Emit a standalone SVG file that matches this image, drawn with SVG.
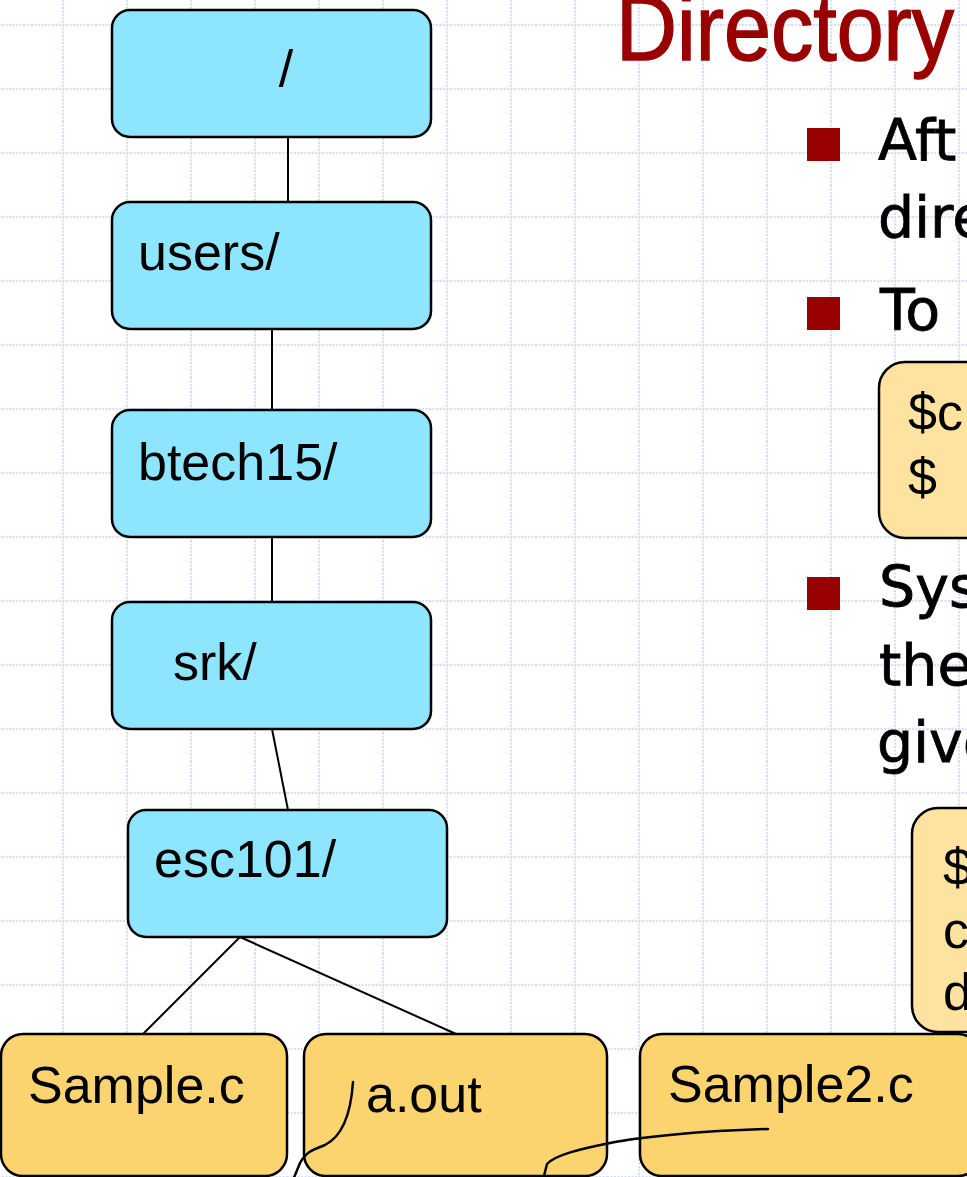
<svg xmlns="http://www.w3.org/2000/svg" width="967" height="1177" viewBox="0 0 967 1177">
  <style>
    .dir { fill: #8de6fd; stroke: #000; stroke-width: 2.5; }
    .file { fill: #fcd46f; stroke: #000; stroke-width: 2.5; }
    .cmd { fill: #fde39f; stroke: #000; stroke-width: 2.5; }
    .lbl { font-family: "Liberation Sans", Arial, sans-serif; font-size: 52px; fill: #000; }
    .body { font-family: "DejaVu Sans", "Noto Sans", sans-serif; font-size: 57px; fill: #000; stroke: #000; stroke-width: 0.8; }
    .edge { stroke: #000; stroke-width: 2; fill: none; }
    .ink { stroke: #000; stroke-width: 2.5; fill: none; stroke-linecap: round; }
    .bullet { fill: #990000; }
  </style>
  <defs>
    <!-- graph-paper background, 64px cells -->
    <pattern id="grid" x="31" y="-7" width="64" height="64" patternUnits="userSpaceOnUse">
      <path d="M32 0V64M0 32H64" stroke="#cdd8f7" stroke-width="2" stroke-dasharray="2 1.5" stroke-opacity="0.85" fill="none"/>
    </pattern>
  </defs>

  <rect width="967" height="1177" fill="#fff"/>
  <rect width="967" height="1177" fill="url(#grid)"/>

  <!-- slide title -->
  <text x="616" y="60" font-family="'Liberation Sans Narrow', 'Liberation Sans', sans-serif" font-size="92" fill="#990000" stroke="#990000" stroke-width="1.5" textLength="338" lengthAdjust="spacingAndGlyphs">Directory</text>

  <!-- bullet points -->
  <g id="bullets">
    <rect class="bullet" x="807" y="128" width="33" height="33"/>
    <text class="body" x="878" y="160">Aft</text>
    <text class="body" x="878" y="237">dire</text>
    <rect class="bullet" x="807" y="297" width="33" height="33"/>
    <text class="body" x="880" y="330">To</text>
    <rect class="bullet" x="807" y="577" width="33" height="33"/>
    <text class="body" x="879" y="607">Sys</text>
    <text class="body" x="879" y="685">the</text>
    <text class="body" x="877" y="762">give</text>
  </g>

  <!-- command boxes -->
  <g id="cmd1">
    <rect class="cmd" x="879" y="362" width="240" height="176" rx="26"/>
    <text class="lbl" x="908" y="430">$c</text>
    <text class="lbl" x="908" y="495">$</text>
  </g>
  <g id="cmd2">
    <rect class="cmd" x="912" y="808" width="200" height="224" rx="26"/>
    <text class="lbl" x="943" y="885">$</text>
    <text class="lbl" x="943" y="948">c</text>
    <text class="lbl" x="943" y="1010">d</text>
  </g>

  <!-- tree edges -->
  <g id="connectors">
    <line class="edge" x1="288" y1="137" x2="288" y2="202"/>
    <line class="edge" x1="272" y1="329" x2="272" y2="410"/>
    <line class="edge" x1="272" y1="537" x2="272" y2="602"/>
    <line class="edge" x1="272" y1="729" x2="288" y2="810"/>
    <line class="edge" x1="240" y1="937" x2="143" y2="1034"/>
    <line class="edge" x1="240" y1="937" x2="456" y2="1034"/>
  </g>

  <!-- directory nodes -->
  <g id="root">
    <rect class="dir" x="112" y="10" width="319" height="127" rx="18"/>
    <text class="lbl" x="286" y="87" text-anchor="middle">/</text>
  </g>
  <g id="users">
    <rect class="dir" x="112" y="202" width="319" height="127" rx="18"/>
    <text class="lbl" x="138" y="270">users/</text>
  </g>
  <g id="btech15">
    <rect class="dir" x="112" y="410" width="319" height="127" rx="18"/>
    <text class="lbl" x="138" y="480">btech15/</text>
  </g>
  <g id="srk">
    <rect class="dir" x="112" y="602" width="319" height="127" rx="18"/>
    <text class="lbl" x="173" y="680">srk/</text>
  </g>
  <g id="esc101">
    <rect class="dir" x="128" y="810" width="319" height="127" rx="18"/>
    <text class="lbl" x="154" y="877">esc101/</text>
  </g>

  <!-- file nodes -->
  <g id="sample-c">
    <rect class="file" x="1" y="1034" width="286" height="142" rx="22"/>
    <text class="lbl" x="28" y="1103">Sample.c</text>
  </g>
  <g id="a-out">
    <rect class="file" x="304" y="1034" width="303" height="142" rx="22"/>
    <text class="lbl" x="366" y="1112">a.out</text>
  </g>
  <g id="sample2-c">
    <rect class="file" x="640" y="1034" width="340" height="142" rx="22"/>
    <text class="lbl" x="668" y="1102">Sample2.c</text>
  </g>

  <!-- freehand pen strokes -->
  <g id="annotations">
    <path class="ink" d="M353,1082 C351,1112 343,1136 325,1145 C312,1150 306,1152 300,1163 L293,1180"/>
    <path class="ink" d="M768,1129 C700,1131 640,1137 610,1143 C580,1149 555,1155 547,1164 L543,1180"/>
  </g>
</svg>
